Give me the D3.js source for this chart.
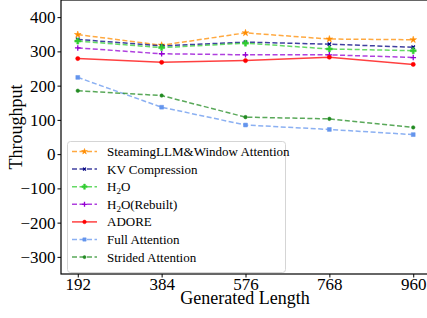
<!DOCTYPE html>
<html>
<head>
<meta charset="utf-8">
<script src="https://cdn.jsdelivr.net/npm/d3@7"></script>
<style>
  body { margin: 0; background: #fff; }
  svg { display: block; }
  svg text { font-family: "Liberation Serif", "DejaVu Serif", serif; }
</style>
</head>
<body>
<div id="chart"></div>
<script>
var lengths = [192, 384, 576, 768, 960];

var steaming = [349, 318, 354, 336, 334];
var kv_comp  = [335, 316, 327, 321, 312];
var h2o      = [330, 311, 324, 307, 302];
var h2o_reb  = [310, 293, 290, 290, 282];
var adore    = [279, 268, 273, 283, 262];
var full_att = [224, 137, 85, 72, 57];
var strided  = [185, 171, 108, 103, 78];

var y_ticks = [-300, -200, -100, 0, 100, 200, 300, 400];

var series = [
  {name: "SteamingLLM&Window Attention", values: steaming, color: "#ff8c00", marker: "star",    dash: true},
  {name: "KV Compression",               values: kv_comp,  color: "#000080", marker: "x",       dash: true},
  {name: "H2O",                          values: h2o,      color: "#32cd32", marker: "plus_f",  dash: true},
  {name: "H2O(Rebuilt)",                 values: h2o_reb,  color: "#9400d3", marker: "plus",    dash: true},
  {name: "ADORE",                        values: adore,    color: "#ff0000", marker: "circle",  dash: false},
  {name: "Full Attention",               values: full_att, color: "#6495ed", marker: "square",  dash: true},
  {name: "Strided Attention",            values: strided,  color: "#228b22", marker: "pentagon",dash: true}
];

var width = 427, height = 318;
var left = 61, top_ = 0, right = 430, bottom = 274;

var svg = d3.select("#chart").append("svg")
  .attr("width", width).attr("height", height);

var scalex = d3.scaleLinear().domain([153.6, 998.4]).range([left, right]);
var scaley = d3.scaleLinear().domain([-350, 450]).range([bottom, top_]);

// frame
svg.append("rect")
  .attr("x", left).attr("y", top_)
  .attr("width", right - left).attr("height", bottom - top_)
  .attr("fill", "none").attr("stroke", "black").attr("stroke-width", 1.2);

var x_axis = d3.axisBottom(scalex).tickValues(lengths).tickSize(3.5).tickPadding(0);
var gx = svg.append("g")
  .attr("transform", "translate(0," + bottom + ")")
  .call(x_axis);
gx.select(".domain").remove();
gx.attr("font-family", null);
gx.selectAll("text").attr("font-size", 17).attr("fill", "black");

var y_axis = d3.axisLeft(scaley).tickValues(y_ticks).tickSize(3.5).tickPadding(2)
  .tickFormat(function (d) { return d < 0 ? "\u2212" + Math.abs(d) : d; });
var gy = svg.append("g")
  .attr("transform", "translate(" + left + ",0)")
  .call(y_axis);
gy.select(".domain").remove();
gy.attr("font-family", null);
gy.selectAll("text").attr("font-size", 17).attr("fill", "black");

svg.append("text")
  .attr("x", 245).attr("y", 304)
  .attr("text-anchor", "middle")
  .attr("font-size", 18)
  .text("Generated Length");

svg.append("text")
  .attr("transform", "translate(22,127) rotate(-90)")
  .attr("text-anchor", "middle")
  .attr("font-size", 18)
  .text("Throughput");

function marker_path(kind, s)
{
  switch (kind) {
    case "star":     return d3.symbol(d3.symbolStar, s * 14)();
    case "x":        return d3.symbol(d3.symbolX, s * 9)();
    case "plus_f":   return d3.symbol(d3.symbolCross, s * 20)();
    case "plus":     return d3.symbol(d3.symbolPlus, s * 12)();
    case "circle":   return d3.symbol(d3.symbolCircle, s * 14)();
    case "square":   return d3.symbol(d3.symbolSquare, s * 15)();
    case "pentagon": return d3.symbol(d3.symbolCircle, s * 10)();
  }
}

function draw_marker(g, kind, color, x, y, s)
{
  var stroke_only = (kind == "x" || kind == "plus");
  g.append("path")
    .attr("d", marker_path(kind, s))
    .attr("transform", "translate(" + x + "," + y + ")")
    .attr("fill", stroke_only ? "none" : color)
    .attr("stroke", color)
    .attr("stroke-width", stroke_only ? 1.3 : 0.5);
}

var line = d3.line()
  .x(function (d, i) { return scalex(lengths[i]); })
  .y(function (d) { return scaley(d); });

var plot = svg.append("g");
series.forEach(function (s) {
  plot.append("path")
    .datum(s.values)
    .attr("d", line)
    .attr("fill", "none")
    .attr("stroke", s.color)
    .attr("stroke-opacity", 0.75)
    .attr("stroke-width", 1.5)
    .attr("stroke-dasharray", s.dash ? "5,2.5" : null);
  s.values.forEach(function (v, i) {
    draw_marker(plot, s.marker, s.color, scalex(lengths[i]), scaley(v), 1);
  });
});

// legend
var lg = svg.append("g");
lg.append("rect")
  .attr("x", 67.5).attr("y", 141.5)
  .attr("width", 218).attr("height", 131)
  .attr("rx", 3)
  .attr("fill", "white").attr("fill-opacity", 0.8)
  .attr("stroke", "#d5d5d5");

series.forEach(function (s, i) {
  var y = 151.5 + i * 17.6;
  lg.append("line")
    .attr("x1", 72).attr("x2", 97)
    .attr("y1", y).attr("y2", y)
    .attr("stroke", s.color)
    .attr("stroke-opacity", 0.75)
    .attr("stroke-width", 1.5)
    .attr("stroke-dasharray", s.dash ? "5,2.5" : null);
  draw_marker(lg, s.marker, s.color, 84.5, y, 0.75);
  var t = lg.append("text")
    .attr("x", 107).attr("y", y + 4.5)
    .attr("font-size", 13);
  if (s.name.indexOf("H2O") == 0) {
    t.append("tspan").text("H");
    t.append("tspan").attr("font-size", 9).attr("dy", 3).text("2");
    t.append("tspan").attr("dy", -3).text(s.name.slice(2));
  } else {
    t.text(s.name);
  }
});
</script>
</body>
</html>
